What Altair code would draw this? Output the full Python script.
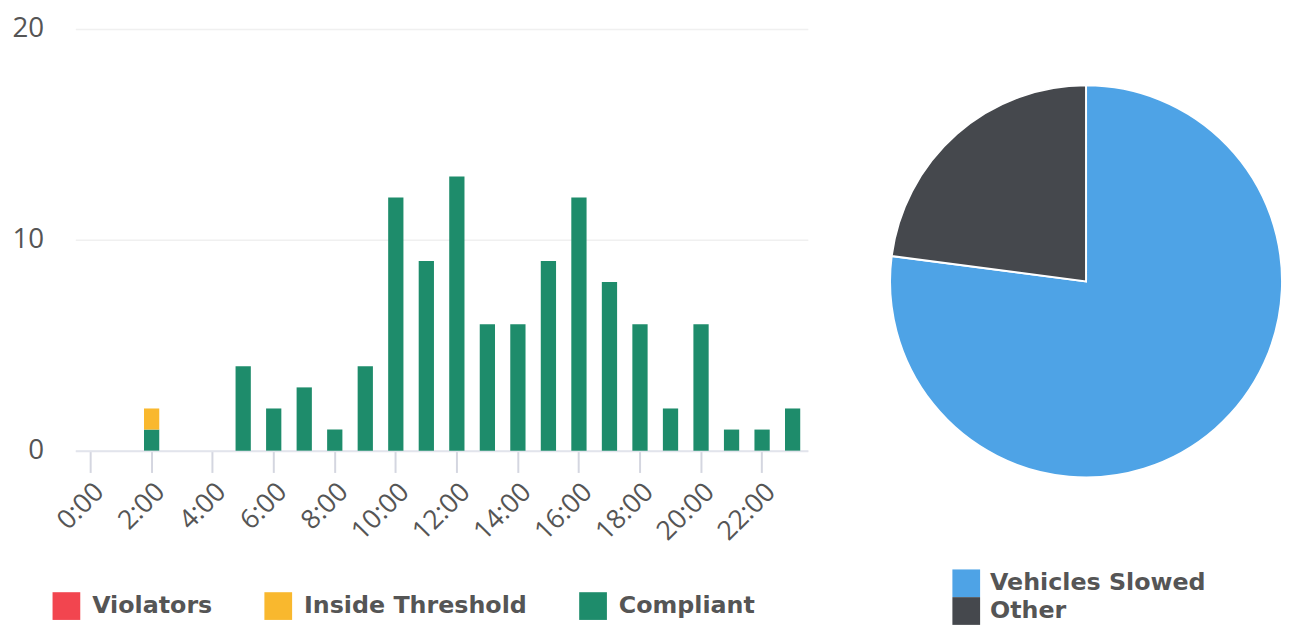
import altair as alt
import pandas as pd

hours = [f"{h}:00" for h in range(24)]
compliant = [0, 0, 1, 0, 0, 4, 2, 3, 1, 4, 12, 9, 13, 6, 6, 9, 12, 8, 6, 2, 6, 1, 1, 2]
inside = [0, 0, 1, 0, 0, 0, 0, 0, 0, 0, 0, 0, 0, 0, 0, 0, 0, 0, 0, 0, 0, 0, 0, 0]
violators = [0] * 24

statuses = ["Violators", "Inside Threshold", "Compliant"]
status_colors = ["#f2454f", "#f9b82e", "#1e8c6b"]
tick_hours = [f"{h}:00" for h in range(0, 24, 2)]

pie_labels = ["Vehicles Slowed", "Other"]
pie_values = [84, 25]
pie_colors = ["#4ea3e6", "#45484d"]

rows = []
for i, h in enumerate(hours):
    for s, vals, o in (("Compliant", compliant, 0), ("Inside Threshold", inside, 1), ("Violators", violators, 2)):
        if vals[i] > 0:
            rows.append({"hour": h, "status": s, "count": vals[i], "ord": o})
bars_df = pd.DataFrame(rows)

pie_df = pd.DataFrame({"label": pie_labels, "value": pie_values, "idx": [0, 1]})

LEG_FONT = "DejaVu Sans"

bars = alt.Chart(bars_df).mark_bar().encode(
    x=alt.X("hour:N", sort=hours,
            scale=alt.Scale(domain=hours, paddingInner=0.5, paddingOuter=0.25),
            axis=alt.Axis(title=None, values=tick_hours, labelAngle=315,
                          labelFont="Open Sans", labelFontSize=27, labelColor="#555555",
                          tickColor="#d4d6e0", tickWidth=2, tickSize=22,
                          domainColor="#e2e4ec", domainWidth=2, labelPadding=6,
                          grid=False)),
    y=alt.Y("count:Q", stack="zero",
            scale=alt.Scale(domain=[0, 20]),
            axis=alt.Axis(title=None, values=[0, 10, 20], ticks=False, domain=False,
                          labelFont="Open Sans", labelFontSize=28, labelColor="#555555",
                          labelPadding=32, gridColor="#f0f0f0", gridWidth=1.5)),
    color=alt.Color("status:N",
                    scale=alt.Scale(domain=statuses, range=status_colors),
                    legend=alt.Legend(title=None, orient="none", direction="horizontal",
                                      legendX=-23, legendY=569,
                                      symbolType="square", symbolSize=784,
                                      symbolStrokeWidth=0, symbolOpacity=1,
                                      labelFont=LEG_FONT, labelFontWeight="bold",
                                      labelFontSize=24, labelColor="#555555",
                                      labelOffset=12, columnPadding=52,
                                      labelLimit=400)),
    order=alt.Order("ord:Q"),
).properties(width=740, height=426)

pie = alt.Chart(pie_df).mark_arc(outerRadius=198, stroke="white", strokeWidth=2).encode(
    theta=alt.Theta("value:Q", stack=True),
    order=alt.Order("idx:Q"),
    color=alt.Color("label:N",
                    scale=alt.Scale(domain=pie_labels, range=pie_colors),
                    legend=alt.Legend(title=None, orient="none", direction="vertical",
                                      legendX=63, legendY=546,
                                      symbolType="square", symbolSize=784,
                                      symbolStrokeWidth=0, symbolOpacity=1,
                                      labelFont=LEG_FONT, labelFontWeight="bold",
                                      labelFontSize=24, labelColor="#555555",
                                      labelOffset=10, rowPadding=0,
                                      labelLimit=400)),
).properties(width=396, height=510)

chart = alt.hconcat(bars, pie, spacing=79).resolve_scale(color="independent").properties(
    padding={"left": 3, "top": 4, "right": 0, "bottom": 0}
).configure_view(stroke=None)

chart.save("out.html", embed_options={"renderer": "svg", "actions": False})
